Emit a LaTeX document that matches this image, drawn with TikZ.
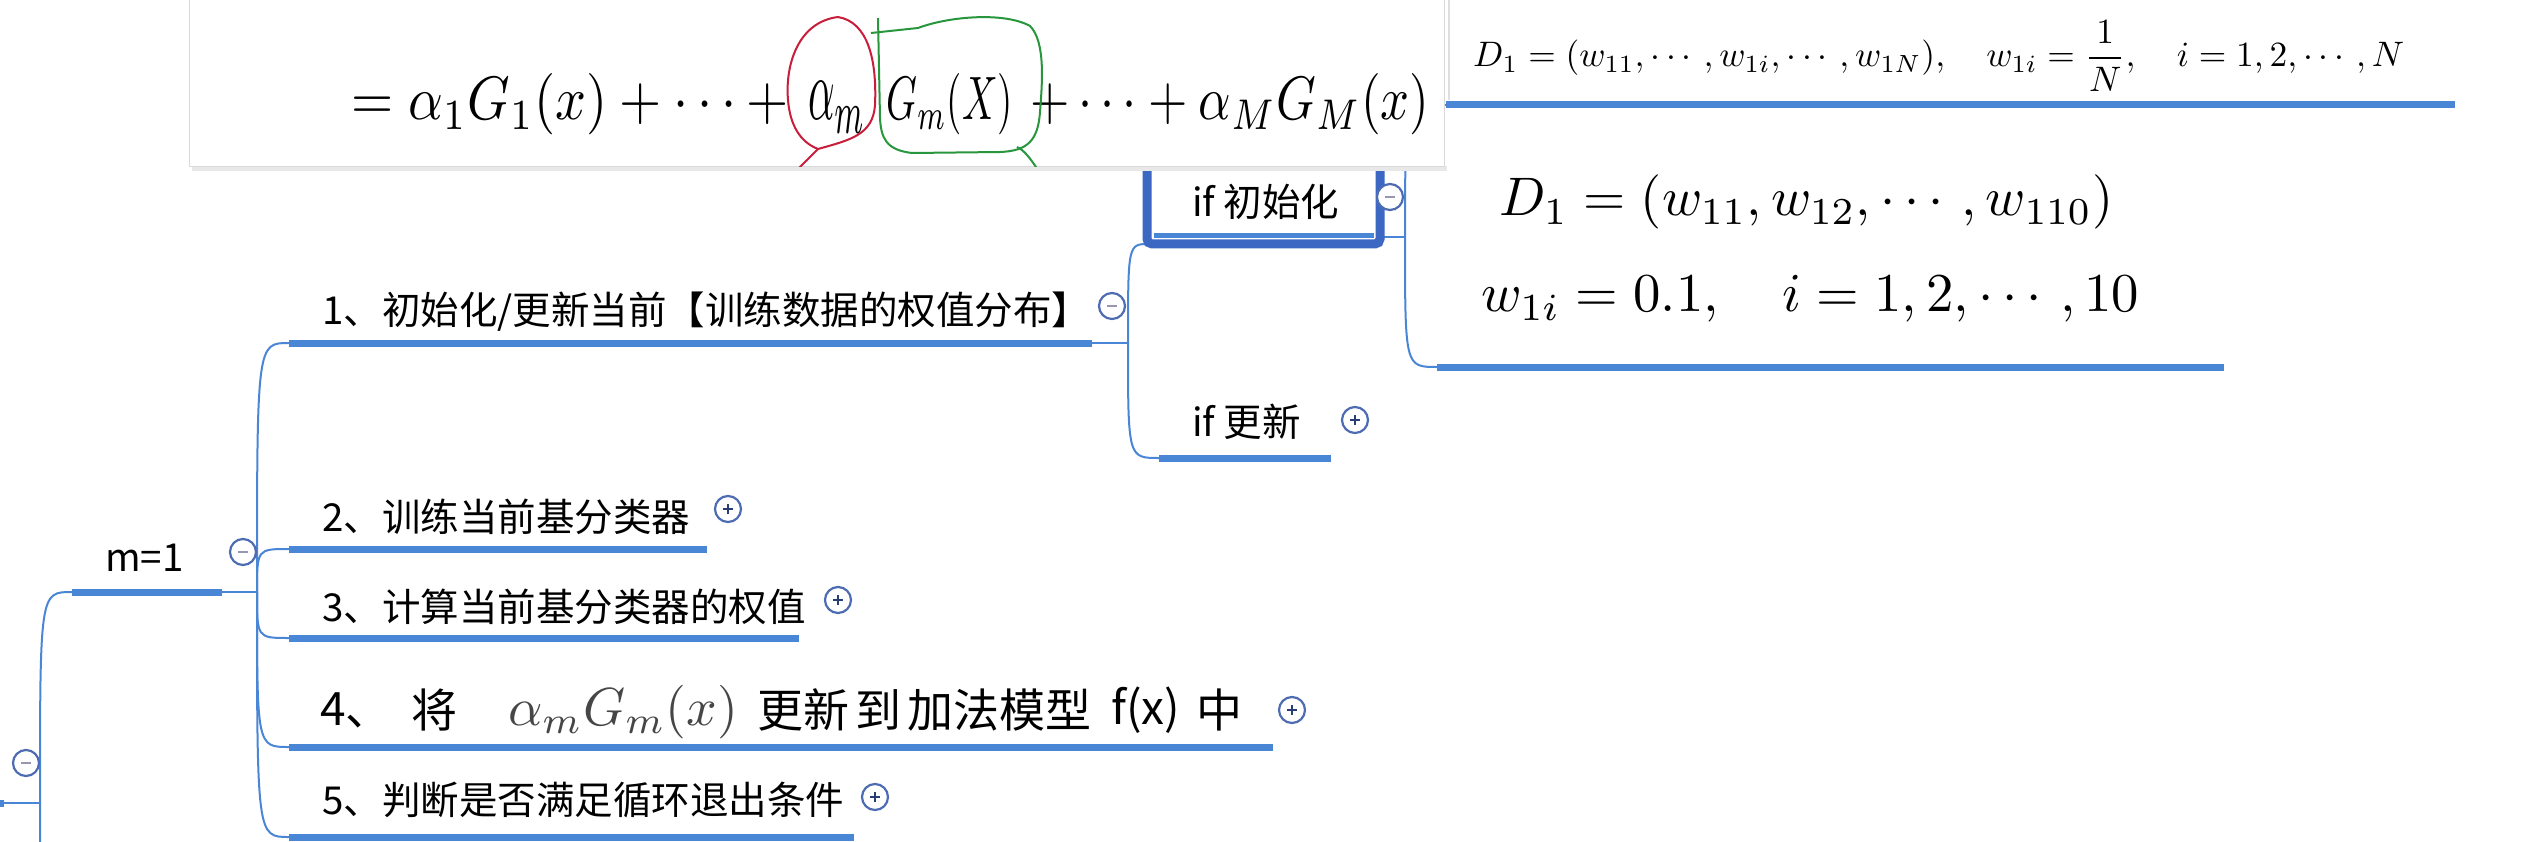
\documentclass[tikz,border=0pt]{standalone}
\usepackage{fontspec}
\usepackage{graphicx}
\usepackage{amsmath}
\newfontfamily\cjk{Noto Sans CJK SC}
\definecolor{mmblue}{RGB}{74,134,214}
\definecolor{mmdark}{RGB}{60,104,196}
\definecolor{circc}{RGB}{78,108,178}
\definecolor{minusc}{RGB}{150,150,175}
\definecolor{plusc}{RGB}{40,60,120}
\definecolor{hred}{RGB}{200,30,60}
\definecolor{hgreen}{RGB}{40,150,60}
\definecolor{mathgray}{RGB}{70,70,70}
\tikzset{
  topic/.style={font=\cjk\fontsize{38.5}{42}\selectfont, anchor=west, inner sep=0pt, text=black},
  bigtopic/.style={font=\cjk\fontsize{46}{50}\selectfont, anchor=west, inner sep=0pt, text=black},
  bar/.style={line width=7pt, mmblue},
  conn/.style={line width=2pt, mmblue},
  tog/.style={circle, draw=circc, line width=2.2pt, minimum size=26pt, inner sep=0pt, fill=white},
  togminus/.style={tog, path picture={\draw[line width=2.2pt, minusc] (path picture bounding box.center) ++(-5pt,0pt) -- ++(10pt,0pt);}},
  togplus/.style={tog, path picture={\draw[line width=2.4pt, plusc] (path picture bounding box.center) ++(-5pt,0pt) -- ++(10pt,0pt) (path picture bounding box.center) ++(0pt,-5pt) -- ++(0pt,10pt);}},
  mathnode/.style={anchor=base west, inner sep=0pt},
  hand/.style={anchor=base west, inner sep=0pt, text=black},
}
\begin{document}
\begin{tikzpicture}[x=1pt,y=-1pt]
\useasboundingbox (0,0) rectangle (2527,842);
\clip (0,0) rectangle (2527,842);
\fill[white] (0,0) rectangle (2527,842);

% ---------- coordinates ----------
\coordinate (rootin) at (-10,803);
\coordinate (rootstub) at (4,803);
\coordinate (root) at (40,803);
\coordinate (offchild) at (72,1060);
\coordinate (m1s) at (72,592);
\coordinate (m1e) at (222,592);
\coordinate (m1j) at (257,592);
\coordinate (n1s) at (289,343);
\coordinate (n1e) at (1092,343);
\coordinate (n1j) at (1128,343);
\coordinate (n2s) at (289,549);
\coordinate (n2e) at (707,549);
\coordinate (n3s) at (289,638);
\coordinate (n3e) at (799,638);
\coordinate (n4s) at (289,747);
\coordinate (n4e) at (1273,747);
\coordinate (n5s) at (289,837);
\coordinate (n5e) at (854,837);
\coordinate (ifis) at (1149,244);
\coordinate (ifie) at (1383,237);
\coordinate (ifij) at (1405,237);
\coordinate (ifus) at (1159,458);
\coordinate (ifue) at (1331,458);
\coordinate (f1s) at (1446,105);
\coordinate (f1e) at (2455,105);
\coordinate (f2s) at (1437,367);
\coordinate (f2e) at (2224,367);

% ---------- connectors ----------
\draw[bar] (rootin) -- (rootstub);
\draw[conn] (rootin) -- (root);
\draw[conn] (root) .. controls (root |- m1s) .. (m1s);
\draw[conn] (root) .. controls (root |- offchild) .. (offchild);

\draw[bar] (m1s) -- (m1e);
\draw[conn] (m1e) -- (m1j);
\foreach \c in {n1s,n2s,n3s,n4s,n5s}
  \draw[conn] (m1j) .. controls (m1j |- \c) .. (\c);

\draw[bar] (n1s) -- (n1e);
\draw[conn] (n1e) -- (n1j);
\draw[bar] (n2s) -- (n2e);
\draw[bar] (n3s) -- (n3e);
\draw[bar] (n4s) -- (n4e);
\draw[bar] (n5s) -- (n5e);

\draw[conn] (n1j) .. controls (n1j |- ifis) .. (ifis);
\draw[conn] (n1j) .. controls (n1j |- ifus) .. (ifus);
\draw[bar] (ifus) -- (ifue);

\draw[conn] (ifie) -- (ifij);
\draw[conn] (ifij) .. controls (ifij |- f1s) .. (f1s);
\draw[conn] (ifij) .. controls (ifij |- f2s) .. (f2s);
\draw[bar] (f1s) -- (f1e);
\draw[bar] (f2s) -- (f2e);

% ---------- "if 初始化" selected box ----------
\draw[mmblue, line width=5pt] (1154,236) -- (1374,236);
\draw[mmdark, line width=9pt, rounded corners=5pt] (1147,120) rectangle (1380,244);

% ---------- texts ----------
\node[topic] (m1) at (105,558) {m=1};
\node[topic] (t1) at (322,312) {1、初始化/更新当前【训练数据的权值分布】};
\node[topic] (t2) at (322,517) {2、训练当前基分类器};
\node[topic] (t3) at (322,607) {3、计算当前基分类器的权值};
\node[bigtopic] (t4a) at (320,710) {4、};
\node[bigtopic] (t4b) at (411,710) {将};
\node[anchor=west, inner sep=0pt, text=mathgray] (t4c) at (508,712) {\resizebox{230pt}{!}{$\alpha_m G_m(x)$}};
\node[bigtopic] (t4d) at (757,710) {更新\hspace{6pt}到\hspace{6pt}加法模型};
\node[bigtopic] (t4e) at (1111,710) {f(x)};
\node[bigtopic] (t4f) at (1196,710) {中};
\node[topic] (t5) at (322,800) {5、判断是否满足循环退出条件};
\node[topic] (ifi) at (1192,202) {if 初始化};
\node[topic] (ifu) at (1192,422) {if 更新};

% formulas
\draw[gray!25, line width=1.5pt] (1449,0) -- (1449,100);
\node[mathnode] (fa) at (1473,67) {\resizebox{931pt}{!}{$D_1=(w_{11},\cdots,w_{1i},\cdots,w_{1N}),\quad w_{1i}=\dfrac{1}{N},\quad i=1,2,\cdots,N$}};
\node[mathnode] (fb) at (1499,216) {\resizebox{614pt}{!}{$D_1=(w_{11},w_{12},\cdots,w_{110})$}};
\node[mathnode] (fc) at (1481,312) {\resizebox{658pt}{!}{$w_{1i}=0.1,\quad i=1,2,\cdots,10$}};

% ---------- toggles ----------
\node[togminus] (c0) at (26,763) {};
\node[togminus] (cm1) at (243,552) {};
\node[togminus] (c1) at (1112,306) {};
\node[togplus] (c2) at (728,509) {};
\node[togplus] (c3) at (838,600) {};
\node[togplus] (c4) at (1292,710) {};
\node[togplus] (c5) at (875,797) {};
\node[togminus] (cifi) at (1390,197) {};
\node[togplus] (cifu) at (1355,420) {};

% ---------- pasted handwritten formula ----------
\fill[gray!18] (192,166) rectangle (1447,171);
\filldraw[fill=white, draw=gray!30, line width=1pt] (189,-2) rectangle (1444,167);
\begin{scope}
\clip (189,0) rectangle (1444,167);
\node[hand] (ha) at (351,120) {\resizebox{437pt}{46pt}{$=\alpha_1G_1(x)+\cdots+$}};
\node[hand] (hb) at (808,120) {\resizebox{58pt}{38pt}{$\alpha_m$}};
\node[hand] (hc) at (886,120) {\resizebox{127pt}{46pt}{$G_m(X)$}};
\node[hand] (hd) at (1030,120) {\resizebox{399pt}{46pt}{$+\cdots+\alpha_MG_M(x)$}};
\draw[hred, line width=2pt, line join=round]
  (838,17) .. controls (868,22) and (877,60) .. (875,105)
  .. controls (873,135) and (850,140) .. (818,149)
  .. controls (800,142) and (790,125) .. (788,100)
  .. controls (785,65) and (798,22) .. (838,17);
\draw[hred, line width=2pt] (818,149) -- (797,170);
\draw[hgreen, line width=2pt, line join=round]
  (871,33) -- (918,28) .. controls (950,16) and (1005,12) .. (1030,26)
  .. controls (1046,42) and (1042,85) .. (1040,112)
  .. controls (1038,140) and (1028,151) .. (1000,152)
  -- (912,153) .. controls (886,150) and (881,138) .. (880,118) -- (878,18);
\draw[hgreen, line width=2pt] (1017,147) .. controls (1024,150) and (1030,158) .. (1038,170);
\end{scope}
\end{tikzpicture}
\end{document}
